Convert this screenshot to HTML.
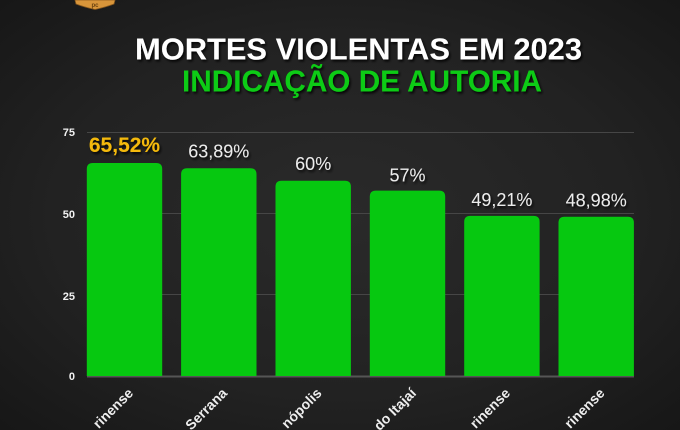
<!DOCTYPE html>
<html><head><meta charset="utf-8">
<style>
html,body{margin:0;padding:0;background:#1e1e1e;width:680px;height:430px;overflow:hidden;}
svg{display:block;overflow:hidden;}
</style></head>
<body>
<svg width="680" height="430" viewBox="0 0 680 430" xmlns="http://www.w3.org/2000/svg">
<defs>
<radialGradient id="bg" cx="50%" cy="50%" r="70%">
<stop offset="0" stop-color="#2a2a2a"/>
<stop offset="0.6" stop-color="#222"/>
<stop offset="1" stop-color="#171717"/>
</radialGradient>
<filter id="sh" x="-10%" y="-30%" width="120%" height="160%">
<feDropShadow dx="1.5" dy="2" stdDeviation="1.2" flood-color="#000" flood-opacity="0.85"/>
</filter>
<clipPath id="cp"><rect width="680" height="430"/></clipPath>
</defs>
<g clip-path="url(#cp)">
<rect width="680" height="430" fill="url(#bg)"/>
<!-- logo -->
<path d="M75,0 L115,0 L114,4 Q106,7 95,9.5 Q84,7 76,4 Z" fill="#d8953a" stroke="#8a5a1e" stroke-width="0.8"/>
<text x="95" y="7" font-family="Liberation Sans, sans-serif" font-size="6" font-weight="bold" fill="#6a4210" text-anchor="middle">pc</text>

<!-- title -->
<g filter="url(#sh)" font-family="Liberation Sans, sans-serif" font-weight="bold">
<text x="135" y="59.5" font-size="31" fill="#ffffff" textLength="447" lengthAdjust="spacingAndGlyphs">MORTES VIOLENTAS EM 2023</text>
<text x="182" y="91.5" font-size="31" fill="#0acb12" textLength="360" lengthAdjust="spacingAndGlyphs">INDICAÇÃO DE AUTORIA</text>
</g>

<!-- gridlines -->
<g stroke="#464646" stroke-width="1">
<line x1="87" y1="132.5" x2="634" y2="132.5"/>
<line x1="87" y1="213.5" x2="634" y2="213.5"/>
<line x1="87" y1="294.5" x2="634" y2="294.5"/>
</g>
<line x1="87" y1="376.5" x2="634" y2="376.5" stroke="#555" stroke-width="2"/>

<!-- y labels -->
<g font-family="Liberation Sans, sans-serif" font-weight="bold" font-size="11" fill="#f2f2f2" text-anchor="end">
<text x="75" y="136">75</text>
<text x="75" y="218">50</text>
<text x="75" y="300">25</text>
<text x="75" y="380">0</text>
</g>

<!-- bars -->
<g fill="#06c810">
<path d="M86.8,376 L86.8,169 Q86.8,163 92.8,163 L156.2,163 Q162.2,163 162.2,169 L162.2,376 Z"/>
<path d="M181.1,376 L181.1,174.2 Q181.1,168.2 187.1,168.2 L250.5,168.2 Q256.5,168.2 256.5,174.2 L256.5,376 Z"/>
<path d="M275.5,376 L275.5,186.8 Q275.5,180.8 281.5,180.8 L344.9,180.8 Q350.9,180.8 350.9,186.8 L350.9,376 Z"/>
<path d="M369.8,376 L369.8,196.6 Q369.8,190.6 375.8,190.6 L439.2,190.6 Q445.2,190.6 445.2,196.6 L445.2,376 Z"/>
<path d="M464.2,376 L464.2,221.9 Q464.2,215.9 470.2,215.9 L533.6,215.9 Q539.6,215.9 539.6,221.9 L539.6,376 Z"/>
<path d="M558.5,376 L558.5,222.7 Q558.5,216.7 564.5,216.7 L627.9,216.7 Q633.9,216.7 633.9,222.7 L633.9,376 Z"/>
</g>

<!-- value labels -->
<g font-family="Liberation Sans, sans-serif" text-anchor="middle" filter="url(#sh)">
<text x="124.5" y="152" font-size="21" font-weight="bold" fill="#f4b908">65,52%</text>
<g font-size="18" fill="#ececec">
<text x="218.8" y="157.5">63,89%</text>
<text x="313.2" y="170">60%</text>
<text x="407.5" y="181.5">57%</text>
<text x="501.9" y="206">49,21%</text>
<text x="596.2" y="206.5">48,98%</text>
</g>
</g>

<!-- x labels (only the part visible inside the frame) -->
<g font-family="Liberation Sans, sans-serif" font-weight="bold" font-size="14" fill="#eeeeee" text-anchor="end">
<text transform="translate(134,394) rotate(-45)">rinense</text>
<text transform="translate(228,394) rotate(-45)">Serrana</text>
<text transform="translate(322.5,394) rotate(-45)">nópolis</text>
<text transform="translate(417,394) rotate(-45)">do Itajaí</text>
<text transform="translate(511,394) rotate(-45)">rinense</text>
<text transform="translate(605.5,394) rotate(-45)">rinense</text>
</g>
</g>
</svg>
</body></html>
